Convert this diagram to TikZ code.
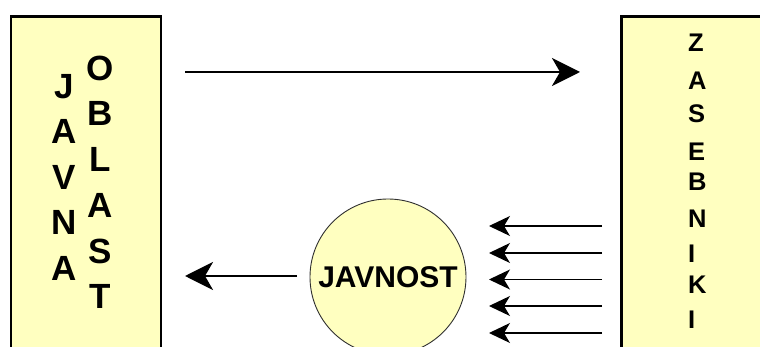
\documentclass[tikz,border=0pt]{standalone}
\usepackage{fontspec}
\setmainfont{Liberation Sans}
\usetikzlibrary{arrows.meta}
\definecolor{paleyellow}{HTML}{FFFFC0}
\definecolor{rimgray}{HTML}{303030}
\tikzset{
  areabox/.style={draw=black, line width=2.8pt, fill=paleyellow, rectangle, inner sep=0pt},
  bigletter/.style={font=\fontsize{35}{40}\selectfont\bfseries, inner sep=0pt},
  smallletter/.style={font=\fontsize{25.5}{30}\selectfont\bfseries, inner sep=0pt, anchor=west},
  publicdisc/.style={circle, draw=rimgray, line width=0.9pt, fill=paleyellow, minimum size=156pt, inner sep=0pt,
    font=\fontsize{30}{34}\selectfont\bfseries},
  bigarrow/.style={line width=2.9pt, -{Stealth[length=28pt, width=28pt, inset=8pt]}},
  thinarrow/.style={line width=1.2pt, -{Stealth[length=21pt, width=20pt, inset=6pt]}}
}
\begin{document}
\begin{tikzpicture}[x=1pt,y=-1pt]
\useasboundingbox (0,0) rectangle (760,347);
% boxes
\node[areabox, minimum width=150pt, minimum height=400pt, anchor=north west] (javna) at (9.5,15) {};
\node[areabox, minimum width=200pt, minimum height=400pt, anchor=north west] (zasebniki) at (620,15) {};
% letters of JAVNA OBLAST
\foreach \ch/\yy [count=\i] in {J/87,A/131,V/177,N/222,A/268}
  \node[bigletter] (jv\i) at (64,\yy) {\ch};
\foreach \ch/\yy [count=\i] in {O/68,B/113,L/159,A/205,S/251,T/296}
  \node[bigletter] (ob\i) at (100,\yy) {\ch};
% letters of ZASEBNIKI
\foreach \ch/\yy [count=\i] in {Z/43,A/81,S/114,E/151.5,B/181.5,N/218.5,I/254,K/284.5,I/319.5}
  \node[smallletter] (zs\i) at (688,\yy) {\ch};
% circle
\node[publicdisc] (javnost) at (388,277) {JAVNOST};
% connector ends
\coordinate (topstart) at (185,72);
\coordinate (topend) at (580,72);
\coordinate (leftstart) at (297,276);
\coordinate (leftend) at (185,276);
\draw[bigarrow] (topstart) -- (topend);
\draw[bigarrow] (leftstart) -- (leftend);
\foreach \yy [count=\i] in {226,253,279.5,306,333} {
  \coordinate (rs\i) at (602,\yy);
  \coordinate (re\i) at (489,\yy);
  \draw[thinarrow] (rs\i) -- (re\i);
}
\end{tikzpicture}
\end{document}
